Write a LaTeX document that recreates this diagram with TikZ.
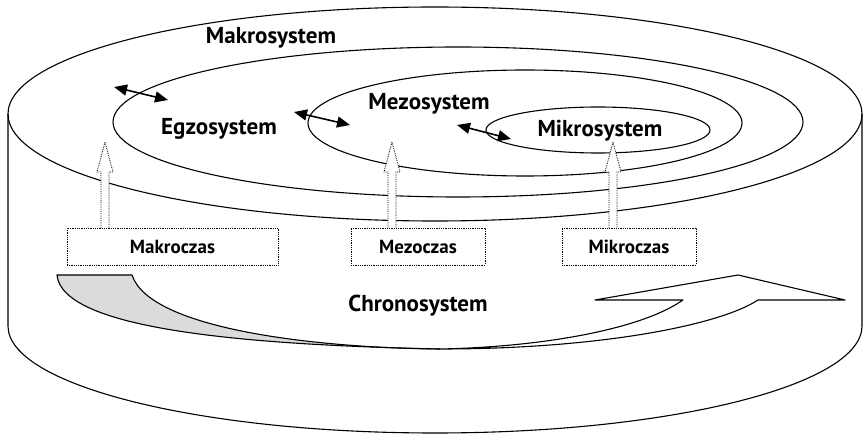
\documentclass[tikz,border=0pt]{standalone}
\usepackage{fontspec}
\setmainfont{PT Sans}
\usetikzlibrary{arrows.meta}
\begin{document}
\begin{tikzpicture}[x=1pt,y=-1pt,
  ring/.style={line width=1.1pt},
  sysname/.style={font=\fontsize{23}{26}\selectfont\bfseries},
  timebox/.style={draw,densely dotted,line width=0.8pt,minimum width=211pt,minimum height=37pt,
    inner sep=0pt,font=\fontsize{19}{22}\selectfont\bfseries},
  link/.style={line width=1.6pt,{Triangle[length=13pt,width=11pt]}-{Triangle[length=13pt,width=11pt]}},
  blockarrow/.style={densely dotted,line width=0.8pt,fill=white},
  ribbon/.style={line width=1.1pt,line join=round}]
\useasboundingbox (0,0) rectangle (865,435);

% cylinder: side walls and lower rim
\draw[ring] (8,114) -- (8,326) arc[start angle=180,end angle=360,x radius=427pt,y radius=107pt] -- (862,114);
% nested rings on the top face
\draw[ring] (435,114) ellipse[x radius=427pt,y radius=107pt];
\draw[ring] (458,122) ellipse[x radius=345pt,y radius=75pt];
\draw[ring] (525,123) ellipse[x radius=217pt,y radius=53pt];
\draw[ring] (598,130) ellipse[x radius=112pt,y radius=23pt];

% system labels
\node[sysname] (makro) at (271,38) {Makrosystem};
\node[sysname] (egzo) at (219,129) {Egzosystem};
\node[sysname] (mezo) at (429,104) {Mezosystem};
\node[sysname] (mikro) at (600,131) {Mikrosystem};

% two-way links across the ring borders
\coordinate (l1a) at (114,87);  \coordinate (l1b) at (168,100);
\coordinate (l2a) at (294,112); \coordinate (l2b) at (350,125);
\coordinate (l3a) at (457,125); \coordinate (l3b) at (511,139);
\draw[link] (l1a) -- (l1b);
\draw[link] (l2a) -- (l2b);
\draw[link] (l3a) -- (l3b);

% time scale boxes
\node[timebox,minimum width=211pt] (makt) at (172.5,246.5) {Makroczas};
\node[timebox,minimum width=134pt] (mezt) at (418,246.5) {Mezoczas};
\node[timebox,minimum width=134pt] (mikt) at (629,246.5) {Mikroczas};

% hollow dotted arrows from the boxes up to the rings
\coordinate (a1) at (105,228);
\coordinate (a2) at (392,228);
\coordinate (a3) at (613,228);
\foreach \a in {a1,a2,a3}{
  \draw[blockarrow] (\a) ++(-4,0) -- ++(0,-56) -- ++(-4,0) -- ++(8,-30) -- ++(8,30) -- ++(-4,0) -- ++(0,56);
}

% chronosystem ribbon: shaded tail
\fill[gray!28] (57,275) .. controls (62,330) and (250,345) .. (440,349)
  .. controls (320,348) and (150,330) .. (132,275) -- cycle;
\draw[ribbon] (132,275) -- (57,275) .. controls (62,330) and (250,345) .. (440,349);
\draw[ribbon] (132,275) .. controls (150,330) and (320,348) .. (440,349);
% chronosystem ribbon: front part with arrow head
\draw[ribbon,fill=white] (440,349) .. controls (600,349) and (720,325) .. (758,300)
  -- (845,300) -- (738,275) -- (595,300) -- (683,300)
  .. controls (640,330) and (540,347) .. (440,349);
\node[sysname] (chrono) at (418,306) {Chronosystem};
\end{tikzpicture}
\end{document}
